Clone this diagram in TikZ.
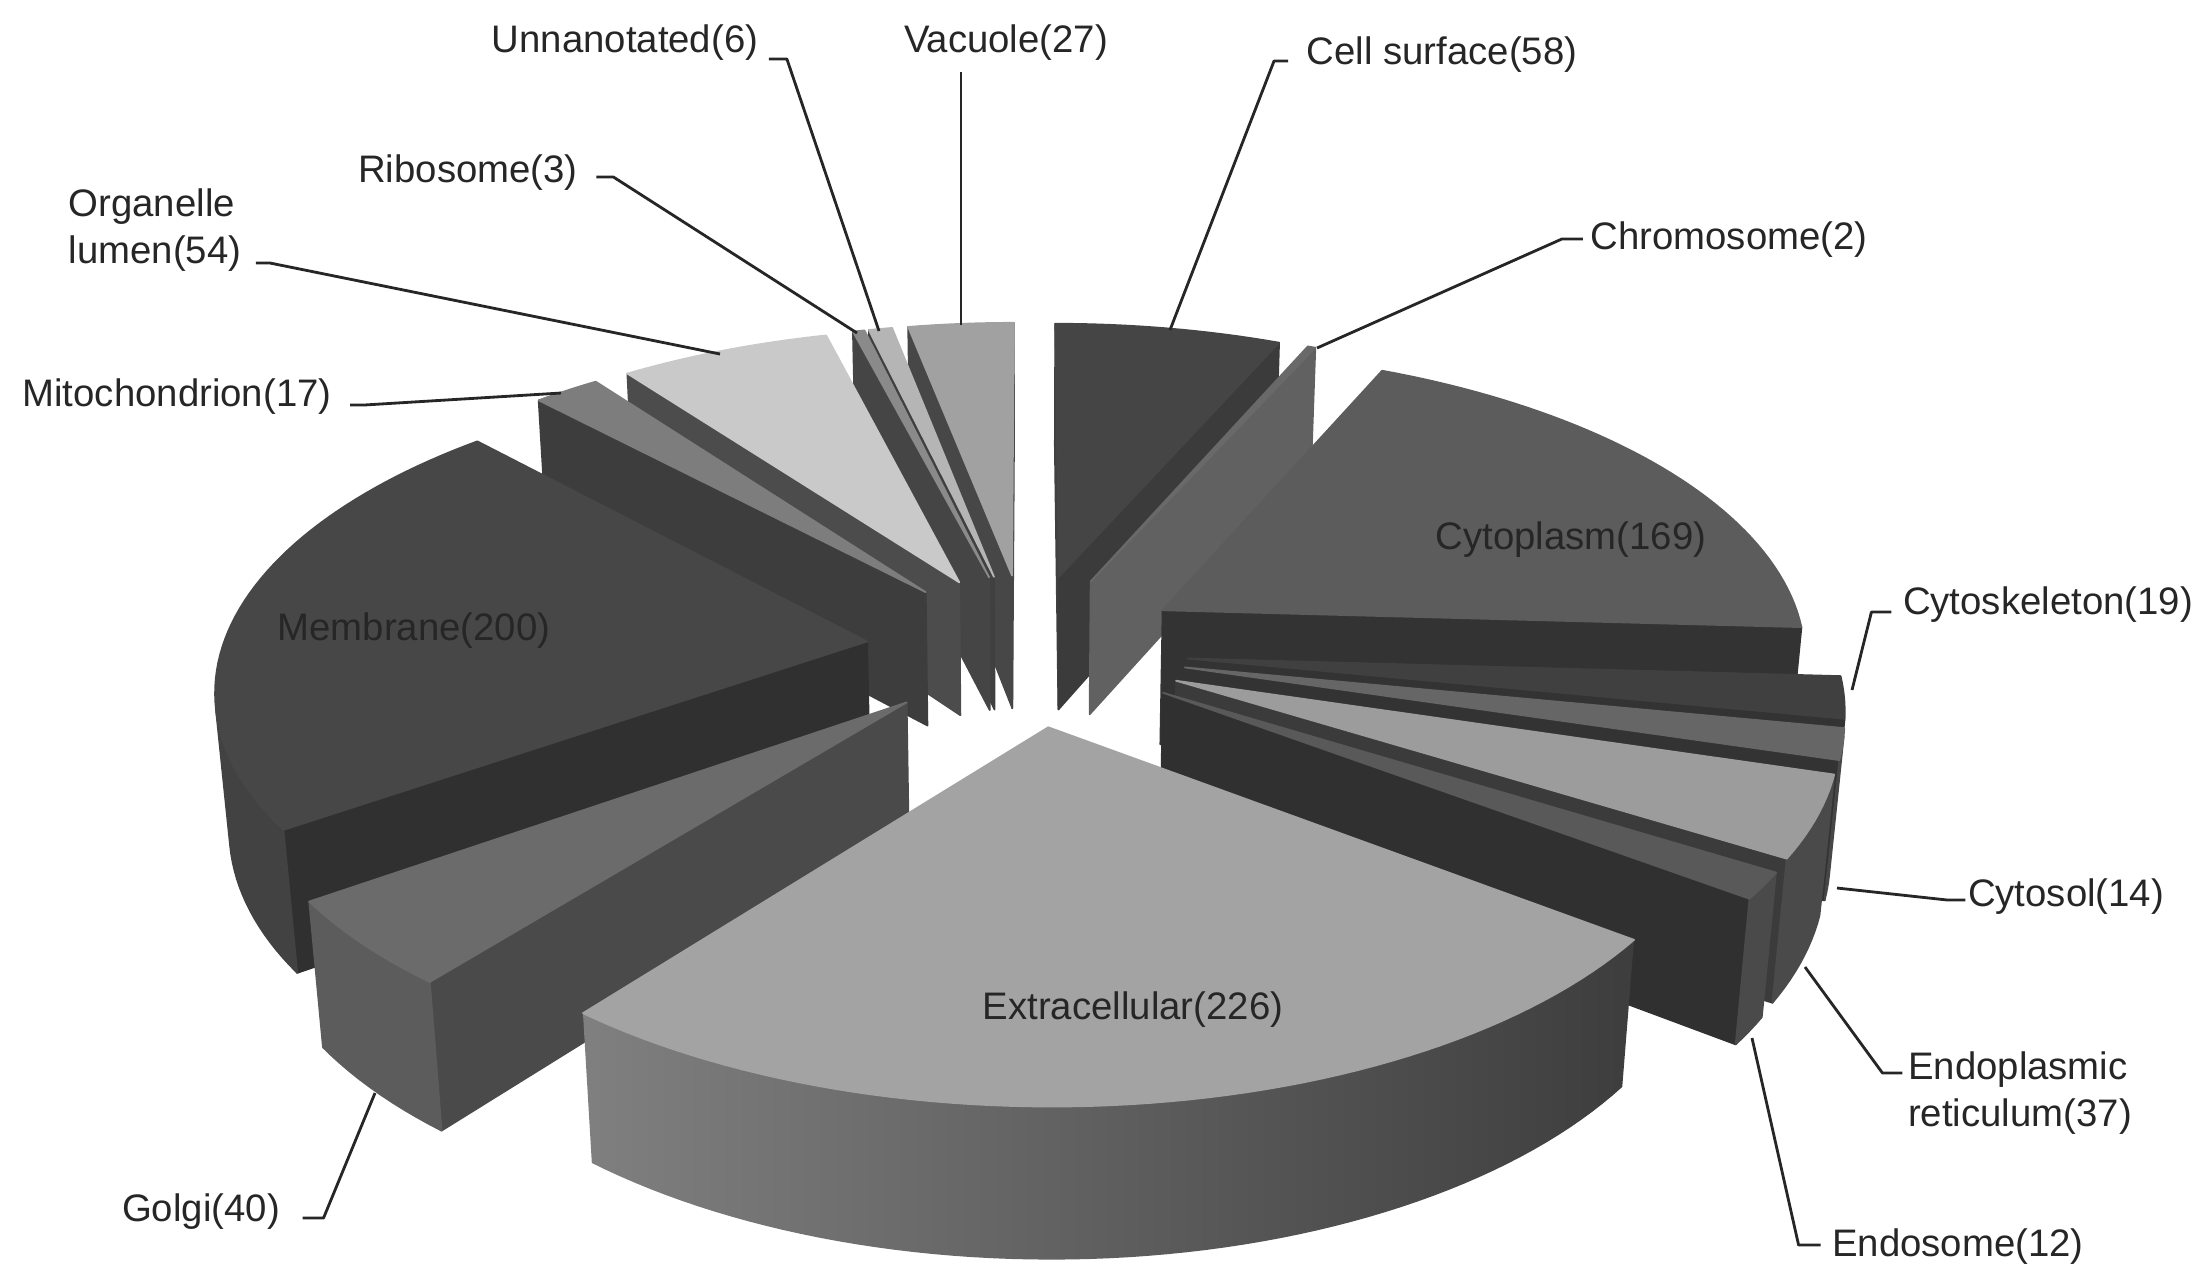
\documentclass[tikz,border=0pt]{standalone}
\usepackage{fontspec}
\setmainfont{Liberation Sans}
\usepackage{xcolor}
\usepackage{tikz}

% view of the pie: centre, focal length, distance, tilt, depth, explode
\def\pieCX{1027}
\def\pieCY{649}
\def\pieF{4225}
\def\pieL{6.55}
\def\pieAng{28.23}
\def\pieH{0.243}
\def\pieE{0.25}

% #1 start angle, #2 end angle, #3 top, #4 start wall, #5 end wall, #6 outer wall
\newcommand{\pieslice}[6]{%
  \pgfmathsetmacro\slM{(#1+#2)/2}
  \pgfmathsetmacro\slX{\pieE*sin(\slM)}
  \pgfmathsetmacro\slY{\pieE*cos(\slM)}
  \pgfmathsetmacro\slK{\pieL*cos(\pieAng)+(\slY)}
  \coordinate (T) at ({px(\slX,\slY,0)},{py(\slX,\slY,0)});
  \coordinate (TB) at ({px(\slX,\slY,-\pieH)},{py(\slX,\slY,-\pieH)});
  \coordinate (S) at ({px(\slX+sin(#1),\slY+cos(#1),0)},{py(\slX+sin(#1),\slY+cos(#1),0)});
  \coordinate (SB) at ({px(\slX+sin(#1),\slY+cos(#1),-\pieH)},{py(\slX+sin(#1),\slY+cos(#1),-\pieH)});
  \coordinate (E) at ({px(\slX+sin(#2),\slY+cos(#2),0)},{py(\slX+sin(#2),\slY+cos(#2),0)});
  \coordinate (EB) at ({px(\slX+sin(#2),\slY+cos(#2),-\pieH)},{py(\slX+sin(#2),\slY+cos(#2),-\pieH)});
  % radial walls
  \pgfmathtruncatemacro\slV{((\slX)*cos(#1)-sin(#1)*(\slK))>0}
  \ifnum\slV=1 \path[#4] (T) -- (S) -- (SB) -- (TB) -- cycle; \fi
  \pgfmathtruncatemacro\slV{(sin(#2)*(\slK)-(\slX)*cos(#2))>0}
  \ifnum\slV=1 \path[#5] (T) -- (E) -- (EB) -- (TB) -- cycle; \fi
  % outer wall, only the part turned to us
  \pgfmathsetmacro\slR{sqrt((\slK)*(\slK)+(\slX)*(\slX))}
  \pgfmathsetmacro\slD{atan2(\slX,\slK)}
  \pgfmathsetmacro\slA{acos(-1/\slR)}
  \pgfmathsetmacro\slOa{max(#1,\slD+\slA)}
  \pgfmathsetmacro\slOb{min(#2,\slD+360-\slA)}
  \pgfmathtruncatemacro\slV{\slOb>\slOa+0.2}
  \ifnum\slV=1
    \pgfmathtruncatemacro\slN{(\slOb-\slOa)/1.5+2}
    \path[#6] plot[domain=\slOa:\slOb,samples=\slN,variable=\t]
        ({px(\slX+sin(\t),\slY+cos(\t),0)},{py(\slX+sin(\t),\slY+cos(\t),0)})
      -- plot[domain=\slOb:\slOa,samples=\slN,variable=\t]
        ({px(\slX+sin(\t),\slY+cos(\t),-\pieH)},{py(\slX+sin(\t),\slY+cos(\t),-\pieH)})
      -- cycle;
  \fi
  % top
  \pgfmathtruncatemacro\slN{(#2-#1)/1.5+2}
  \path[#3] (T) -- plot[domain=#1:#2,samples=\slN,variable=\t]
      ({px(\slX+sin(\t),\slY+cos(\t),0)},{py(\slX+sin(\t),\slY+cos(\t),0)}) -- cycle;
}

\begin{document}
\begin{tikzpicture}[
  x=0.01cm, y=-0.01cm,
  declare function={
    pd(\qx,\qy,\qz)=\pieL+(\qy)*cos(\pieAng)-(\qz)*sin(\pieAng);
    px(\qx,\qy,\qz)=\pieCX+\pieF*(\qx)/pd(\qx,\qy,\qz);
    py(\qx,\qy,\qz)=\pieCY-\pieF*((\qy)*sin(\pieAng)+(\qz)*cos(\pieAng))/pd(\qx,\qy,\qz);
  },
  fc/.style={fill=#1, draw=#1, line width=0.5pt, line join=round},
  lab/.style={font=\fontsize{10.9pt}{13.3pt}\selectfont, text=black!85, inner sep=0pt},
  leader/.style={draw=black!85, line width=0.8pt, line join=round}
]
\useasboundingbox (0,0) rectangle (2199,1265);

% slices, back to front
\pieslice{349.005}{360}{fc=black!37}{fc=black!72}{fc=black!72}{fc=black!72}       % Vacuole
\pieslice{0}{23.620}{fc=black!73}{fc=black!75}{fc=black!77}{fc=black!75}          % Cell surface
\pieslice{346.561}{349.005}{fc=black!29}{fc=black!75}{fc=black!75}{fc=black!75}   % Unnanotated
\pieslice{345.339}{346.561}{fc=black!46}{fc=black!73}{fc=black!73}{fc=black!73}   % Ribosome
\pieslice{23.620}{24.434}{fc=black!59}{fc=black!62}{fc=black!62}{fc=black!62}     % Chromosome
\pieslice{323.348}{345.339}{fc=black!21}{fc=black!70}{fc=black!70}{fc=black!70}   % Organelle lumen
\pieslice{316.425}{323.348}{fc=black!51}{fc=black!76}{fc=black!76}{fc=black!76}   % Mitochondrion
\pieslice{24.434}{93.258}{fc=black!64}{fc=black!80}{fc=black!80}{fc=black!80}     % Cytoplasm
\pieslice{234.977}{316.425}{fc=black!72}{fc=black!81}{fc=black!81}{fc=black!74}   % Membrane
\pieslice{93.258}{100.995}{fc=black!75}{fc=black!80}{fc=black!80}{fc=black!78}    % Cytoskeleton
\pieslice{100.995}{106.697}{fc=black!60}{fc=black!80}{fc=black!80}{fc=black!72}   % Cytosol
\pieslice{106.697}{121.765}{fc=black!39}{fc=black!77}{fc=black!77}{fc=black!71}   % Endoplasmic reticulum
\pieslice{121.765}{126.652}{fc=black!65}{fc=black!81}{fc=black!81}{fc=black!71}   % Endosome
\pieslice{218.688}{234.977}{fc=black!58}{fc=black!71}{fc=black!71}{fc=black!64}   % Golgi
\pieslice{126.652}{218.688}{fc=black!36}{fc=black!70}{fc=black!70}{left color=black!50, right color=black!76} % Extracellular

% labels on the slices
\node[lab] (lCyto) at (1571,540) {Cytoplasm(169)};
\node[lab] (lMem) at (414,631) {Membrane(200)};
\node[lab] (lExtra) at (1133,1010) {Extracellular(226)};

% outer labels
\node[lab] (lUnan) at (625,43) {Unnanotated(6)};
\node[lab] (lVac) at (1006,43) {Vacuole(27)};
\node[lab] (lCell) at (1442,55) {Cell surface(58)};
\node[lab] (lRibo) at (468,173) {Ribosome(3)};
\node[lab, align=left] (lOrg) at (155,230) {Organelle\\lumen(54)};
\node[lab] (lChrom) at (1729,240) {Chromosome(2)};
\node[lab] (lMito) at (177,397) {Mitochondrion(17)};
\node[lab] (lCsk) at (2048,605) {Cytoskeleton(19)};
\node[lab] (lCytosol) at (2066,897) {Cytosol(14)};
\node[lab, align=left] (lER) at (2020,1093) {Endoplasmic\\reticulum(37)};
\node[lab] (lEndo) at (1958,1247) {Endosome(12)};
\node[lab] (lGolgi) at (201,1212) {Golgi(40)};

% leader ends on the slices
\coordinate (aUnan) at (879,331);
\coordinate (aRibo) at (857,333);
\coordinate (aOrg) at (720,354);
\coordinate (aMito) at (561,393);
\coordinate (aVac) at (961,325);
\coordinate (aCell) at (1170,330);
\coordinate (aChrom) at (1317,348);
\coordinate (aCsk) at (1852,690);
\coordinate (aCytosol) at (1837,888);
\coordinate (aER) at (1805,967);
\coordinate (aEndo) at (1752,1038);
\coordinate (aGolgi) at (375,1093);

\draw[leader] ([shift={(10,16)}]lUnan.east) -- ++(18,0) -- (aUnan);
\draw[leader] (lVac.south -| aVac) ++(0,10) -- (aVac);
\draw[leader] ([shift={(-18,6)}]lCell.west) -- ++(-14,0) -- (aCell);
\draw[leader] ([shift={(18,4)}]lRibo.east) -- ++(17,0) -- (aRibo);
\draw[leader] ([shift={(14,33)}]lOrg.east) -- ++(14,0) -- (aOrg);
\draw[leader] ([shift={(-7,-1)}]lChrom.west) -- ++(-21,0) -- (aChrom);
\draw[leader] ([shift={(18,8)}]lMito.east) -- ++(14,0) -- (aMito);
\draw[leader] ([shift={(-11,7)}]lCsk.west) -- ++(-20,0) -- (aCsk);
\draw[leader] ([shift={(-2,3)}]lCytosol.west) -- ++(-18,0) -- (aCytosol);
\draw[leader] ([shift={(-5,-20)}]lER.west) -- ++(-20,0) -- (aER);
\draw[leader] ([shift={(-11,-2)}]lEndo.west) -- ++(-22,0) -- (aEndo);
\draw[leader] ([shift={(22,6)}]lGolgi.east) -- ++(21,0) -- (aGolgi);
\end{tikzpicture}
\end{document}
